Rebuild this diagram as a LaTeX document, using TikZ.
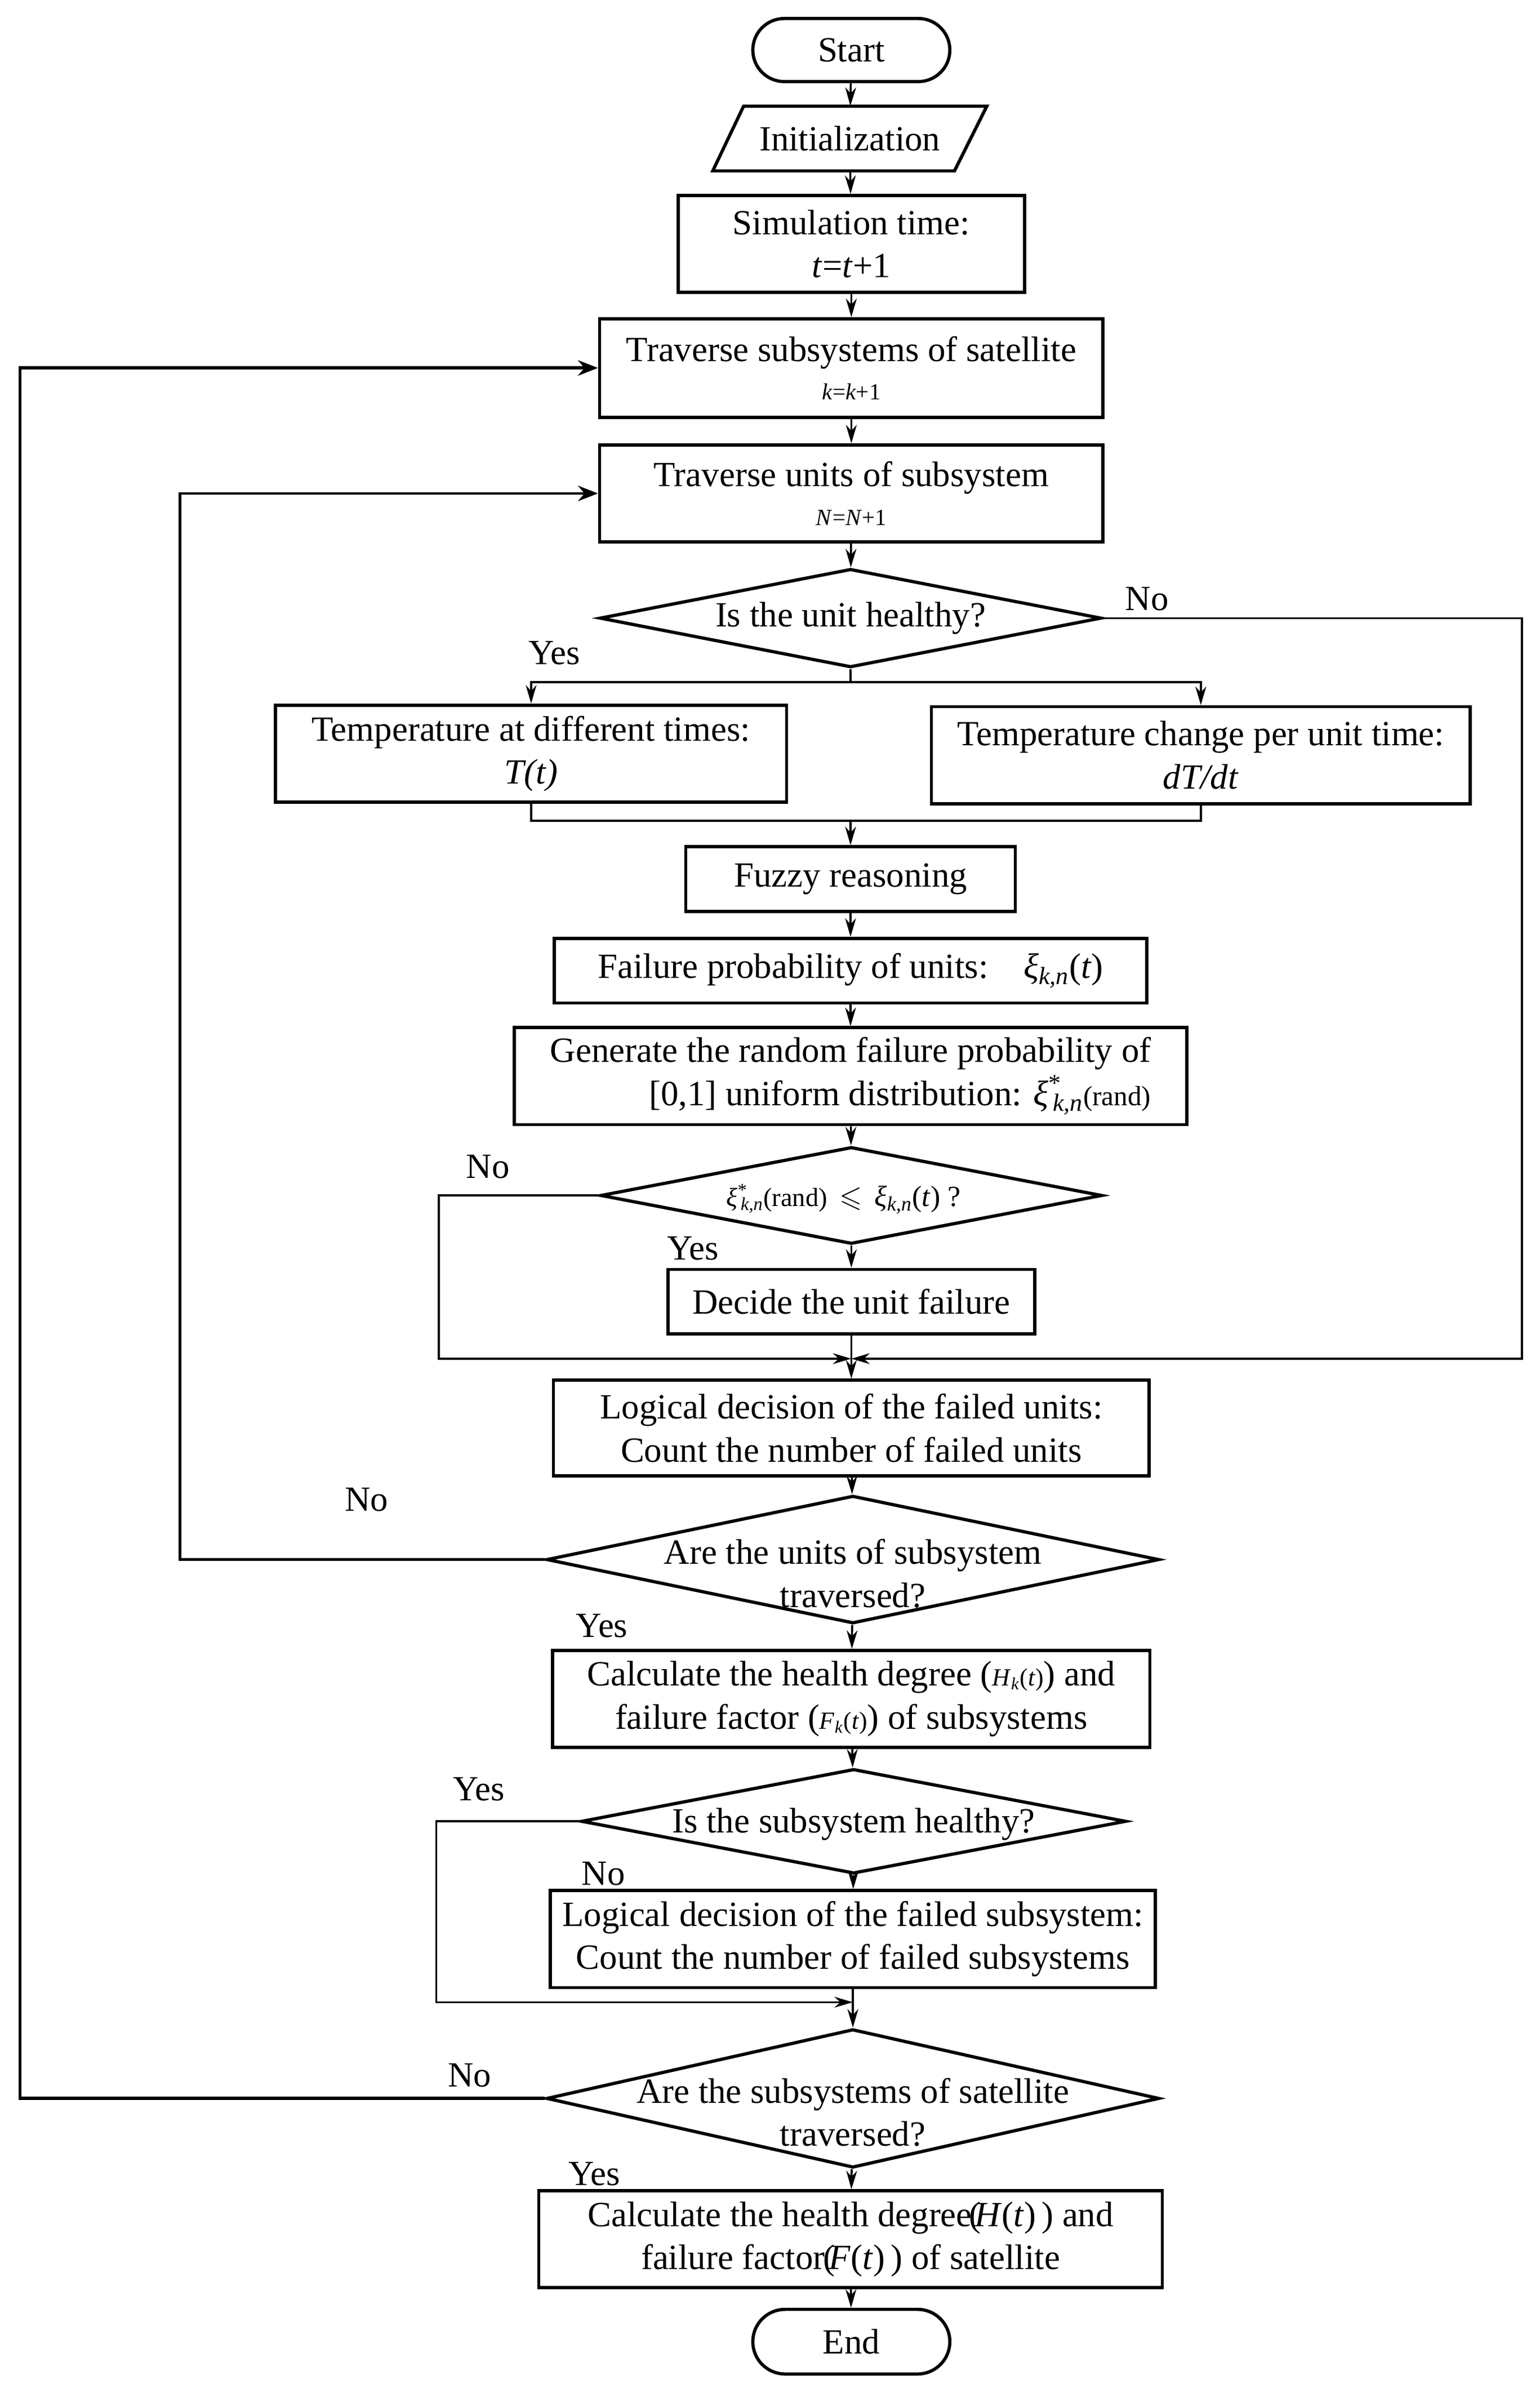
\documentclass[tikz,border=0pt]{standalone}
\usepackage{fontspec}
\usepackage{amssymb}
\setmainfont{Liberation Serif}
\usetikzlibrary{shapes.geometric,shapes.misc,arrows.meta}
\newcommand\fm[1]{{\fontsize{16}{18}\selectfont #1}}
\newcommand\xikn{\textit{ξ}\textsubscript{\textit{k,n}}}
\newcommand\xiknstar{\textit{ξ}\rlap{\textsuperscript{*}}\textsubscript{\,\textit{k,n}}}
\begin{document}
\begin{tikzpicture}[x=1pt,y=-1pt,
  every node/.style={font=\fontsize{23}{28}\selectfont},
  box/.style={draw, line width=2.1pt, fill=white, inner sep=0pt, align=center},
  term/.style={rounded rectangle, draw, line width=2.1pt, fill=white, inner sep=0pt},
  dec/.style={diamond, draw, line width=2.1pt, fill=white, inner sep=0pt},
  arr/.style={line width=1.3pt, -{Stealth[length=12pt,width=7pt]}},
  ln/.style={line width=1.3pt},
  loopline/.style={line width=1.7pt, -{Stealth[length=13pt,width=10pt]}},
  outerloop/.style={line width=2.1pt, -{Stealth[length=13pt,width=10pt]}},
  lab/.style={inner sep=0pt}]
\useasboundingbox (0,0) rectangle (1000,1557.6);

% nodes
\node[term, minimum width=128pt, minimum height=41pt] (start) at (553,32.5) {Start};
\draw[line width=2.1pt, fill=white] (483,69) -- (641,69) -- (620,111) -- (463,111) -- cycle;
\node[inner sep=0pt, minimum width=150pt, minimum height=42pt] (init) at (552,90) {Initialization};
\node[box, minimum width=225pt, minimum height=63pt] (sim) at (553,158.5) {Simulation time:\\\textit{t}=\textit{t}+1};
\node[box, minimum width=327pt, minimum height=64pt] (travsub) at (553,239) {Traverse subsystems of satellite\\[-3pt]{\fontsize{15}{18}\selectfont\textit{k}=\textit{k}+1}};
\node[box, minimum width=327pt, minimum height=63pt] (travunit) at (553,320.5) {Traverse units of subsystem\\[-3pt]{\fontsize{15}{18}\selectfont\textit{N}=\textit{N}+1}};
\node[dec, minimum width=326pt, minimum height=64pt] (d1) at (552.5,401.5) {};
\node[lab] (d1t) at (d1.center) {Is the unit healthy?};
\node[box, minimum width=332pt, minimum height=63pt] (tleft) at (345,489.5) {Temperature at different times:\\\textit{T(t)}};
\node[box, minimum width=350pt, minimum height=63pt] (tright) at (780,490.5) {Temperature change per unit time:\\\textit{dT/dt}};
\node[box, minimum width=214pt, minimum height=42pt] (fuzzy) at (552.5,571) {Fuzzy reasoning};
\node[box, minimum width=385pt, minimum height=42pt] (fail) at (552.5,630.5) {Failure probability of units:\quad \xikn(\textit{t})};
\node[box, minimum width=437pt, minimum height=63pt, align=right] (gen) at (552.5,699) {Generate the random failure probability of\\{}[0,1] uniform distribution: \xiknstar{\fontsize{18}{20}\selectfont(rand)}};
\node[dec, minimum width=326pt, minimum height=63pt] (d2) at (553,776.5) {};
\node[lab, font=\fontsize{19}{21}\selectfont] (d2t) at (548,779) {{\fontsize{17}{20}\selectfont\xiknstar(rand)} \,$\leqslant$\, \xikn(\textit{t}) ?};
\node[box, minimum width=238pt, minimum height=42pt] (decide) at (553,845.5) {Decide the unit failure};
\node[box, minimum width=387pt, minimum height=62pt] (logical) at (553,927.5) {Logical decision of the failed units:\\Count the number of failed units};
\node[dec, minimum width=398pt, minimum height=83pt] (d3) at (554,1013) {};
\node[lab, align=center] (d3t) at (554,1022) {Are the units of subsystem\\traversed?};
\node[box, minimum width=388pt, minimum height=63pt] (calc1) at (553,1103.5) {Calculate the health degree (\fm{\textit{H}\textsubscript{\textit{k}}(\textit{t})}) and\\failure factor (\fm{\textit{F}\textsubscript{\textit{k}}(\textit{t})}) of subsystems};
\node[dec, minimum width=354pt, minimum height=68pt] (d4) at (554.5,1183) {};
\node[lab] (d4t) at (554.5,1185) {Is the subsystem healthy?};
\node[box, minimum width=393pt, minimum height=63pt] (logical2) at (554,1259.5) {Logical decision of the failed subsystem:\\Count the number of failed subsystems};
\node[dec, minimum width=398pt, minimum height=90pt] (d5) at (554,1363) {};
\node[lab, align=center] (d5t) at (554,1372) {Are the subsystems of satellite\\traversed?};
\node[box, minimum width=405pt, minimum height=63pt] (calc2) at (552.5,1454.5) {Calculate the health degree\kern-2pt(\kern-4pt\textit{H}(\textit{t})\,) and\\failure factor\kern-1pt(\kern-4pt\textit{F}(\textit{t})\,) of satellite};
\node[term, minimum width=128pt, minimum height=42pt] (end) at (553,1521) {End};

% labels
\node[lab] (no1) at (745,389) {No};
\node[lab] (yes1) at (360,424) {Yes};
\node[lab] (no2) at (317,758) {No};
\node[lab] (yes2) at (450,811) {Yes};
\node[lab] (no3) at (238,974) {No};
\node[lab] (yes3) at (391,1056) {Yes};
\node[lab] (yes4) at (311,1162) {Yes};
\node[lab] (no4) at (392,1217) {No};
\node[lab] (no5) at (305,1348) {No};
\node[lab] (yes5) at (386,1412) {Yes};

% coordinates
\coordinate (br) at (552.5,443);
\coordinate (m1) at (552.5,533);
\coordinate (m2) at (553,882.5);
\coordinate (m3) at (554,1300.5);

% connectors
\draw[arr] (start) -- (init);
\draw[arr] (init) -- (sim);
\draw[arr] (sim) -- (travsub);
\draw[arr] (travsub) -- (travunit);
\draw[arr] (travunit) -- (d1);
\draw[ln] (d1.south) -- (br);
\draw[arr] (br) -| (tleft.north);
\draw[arr] (br) -| (tright.north);
\draw[ln] (tleft.south) |- (m1);
\draw[ln] (tright.south) |- (m1);
\draw[arr] (m1) -- (fuzzy);
\draw[arr] (fuzzy) -- (fail);
\draw[arr] (fail) -- (gen);
\draw[arr] (gen) -- (d2);
\draw[arr] (d2) -- (decide);
\draw[ln] (decide) -- (m2);
\draw[arr] (d2.west) -- ++(-104,0) |- (m2);
\draw[arr] (d1.east) -- ++(272,0) |- (m2);
\draw[arr] (m2) -- (logical);
\draw[arr] (logical) -- (d3);
\draw[loopline] (d3.west) -- ++(-237,0) |- (travunit.west);
\draw[arr] (d3) -- (calc1);
\draw[arr] (calc1) -- (d4);
\draw[arr] (d4) -- (logical2);
\draw[ln] (logical2) -- (m3);
\draw[arr] (d4.west) -- ++(-93,0) |- (m3);
\draw[arr] (m3) -- (d5);
\draw[outerloop] (d5.west) -- ++(-341,0) |- (travsub.west);
\draw[arr] (d5) -- (calc2);
\draw[arr] (calc2) -- (end);
\end{tikzpicture}
\end{document}
